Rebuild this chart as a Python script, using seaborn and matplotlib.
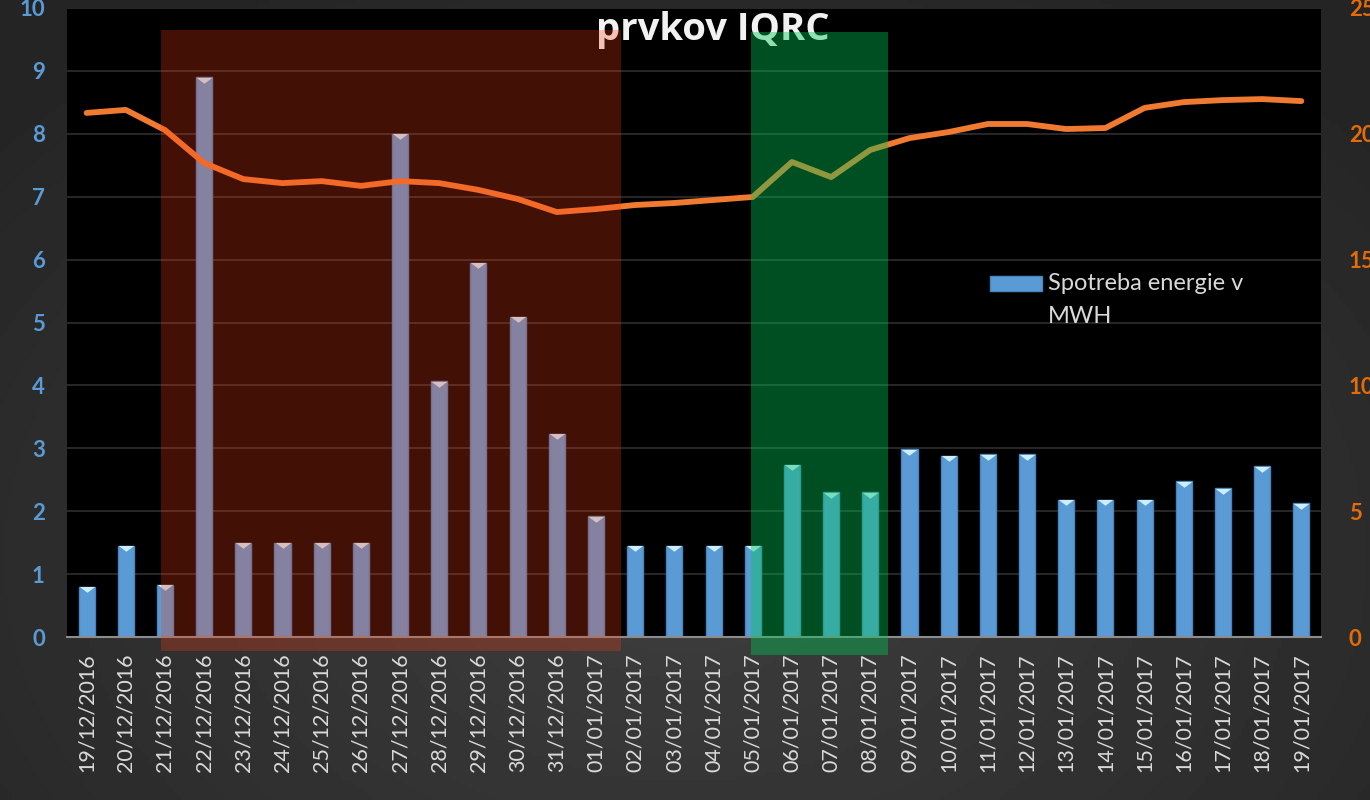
import numpy as np
import pandas as pd
import matplotlib
matplotlib.use('Agg')
import matplotlib.pyplot as plt
import seaborn as sns
from matplotlib.patches import Rectangle

# data
dates = ['19/12/2016', '20/12/2016', '21/12/2016', '22/12/2016', '23/12/2016', '24/12/2016',
         '25/12/2016', '26/12/2016', '27/12/2016', '28/12/2016', '29/12/2016', '30/12/2016',
         '31/12/2016', '01/01/2017', '02/01/2017', '03/01/2017', '04/01/2017', '05/01/2017',
         '06/01/2017', '07/01/2017', '08/01/2017', '09/01/2017', '10/01/2017', '11/01/2017',
         '12/01/2017', '13/01/2017', '14/01/2017', '15/01/2017', '16/01/2017', '17/01/2017',
         '18/01/2017', '19/01/2017']
energy = [0.80, 1.45, 0.83, 8.90, 1.50, 1.50, 1.50, 1.50, 8.00, 4.07, 5.95, 5.09,
          3.23, 1.92, 1.45, 1.45, 1.45, 1.45, 2.74, 2.30, 2.30, 2.99, 2.88, 2.91,
          2.91, 2.18, 2.18, 2.18, 2.48, 2.37, 2.72, 2.13]
temp = [20.83, 20.95, 20.15, 18.84, 18.20, 18.04, 18.12, 17.93, 18.12, 18.04, 17.77, 17.41,
        16.89, 17.01, 17.17, 17.25, 17.37, 17.49, 18.88, 18.28, 19.36, 19.83, 20.07, 20.39,
        20.39, 20.19, 20.23, 21.03, 21.26, 21.34, 21.38, 21.30]
legend_label = 'Spotreba energie v\nMWH'
title_text = 'prvkov IQRC'

df = pd.DataFrame({'date': dates, 'energy': energy, 'temp': temp})
df['pos'] = np.arange(len(df))

sns.set_style('dark')
plt.rcParams['font.family'] = ['Lato', 'DejaVu Sans']

bg = '#2b2b2b'
blue = '#5b9bd5'
orange = '#e36c0a'

fig = plt.figure(figsize=(13.7, 8), dpi=100, facecolor=bg)

# soft radial background like the slide
bg_ax = fig.add_axes([0, 0, 1, 1])
yy, xx = np.mgrid[0:1:200j, 0:1:340j]
dist = np.sqrt(((xx - 0.5) / 0.75) ** 2 + ((yy - 0.3) / 0.9) ** 2)
shade = np.clip(0.245 - 0.11 * dist, 0.145, 0.245)
bg_ax.imshow(shade, cmap='gray', vmin=0, vmax=1, aspect='auto', origin='lower',
             extent=[0, 1, 0, 1])
bg_ax.axis('off')

ax = fig.add_axes([0.0489, 0.2037, 0.9153, 0.7863])
ax.set_facecolor('black')

sns.barplot(data=df, x='date', y='energy', color=blue, width=0.41, saturation=1,
            edgecolor='#4a86bd', linewidth=1.0, label=legend_label, ax=ax, zorder=2)
# light triangle cap on each bar
cap = [(-1, 0.2), (1, 0.2), (0, -0.55)]
ax.scatter(df['pos'], df['energy'] - 0.025, marker=cap, s=125, color='#cdeeff',
           linewidths=0, zorder=3)

ax.set_xlim(-0.5, len(df) - 0.5)
ax.set_ylim(0, 10)
ax.set_yticks(range(0, 11))
ax.grid(axis='y', color='#2e2e2e', linewidth=1.2, zorder=0)
ax.grid(axis='x', visible=False)
for s in ['top', 'right', 'left']:
    ax.spines[s].set_visible(False)
ax.spines['bottom'].set_color('#8c8c8c')
ax.spines['bottom'].set_linewidth(1.5)
ax.set_xlabel('')
ax.set_ylabel('')
ax.tick_params(axis='y', length=0, pad=16, labelsize=16, labelcolor=blue)
ax.tick_params(axis='x', length=0, pad=12, labelsize=15.5, labelcolor='#d9d9d9',
               labelrotation=90)
for t in ax.get_yticklabels():
    t.set_fontweight('bold')

leg = ax.legend(loc='upper left', bbox_to_anchor=(0.736, 0.578), frameon=False,
                fontsize=17, labelcolor='#d9d9d9', handlelength=2.2, handleheight=0.64,
                handletextpad=0.25, borderpad=0, borderaxespad=0)
for t in leg.get_texts():
    t.set_linespacing(1.65)
for h in leg.legend_handles:
    h.set_y(h.get_y() + 12)

ax2 = ax.twinx()
sns.lineplot(data=df, x='pos', y='temp', color='#f07a30', linewidth=4.2, ax=ax2,
             zorder=2, solid_capstyle='round', solid_joinstyle='round')
ax2.set_ylim(0, 25)
ax2.set_yticks(range(0, 26, 5))
ax2.set_xlim(-0.5, len(df) - 0.5)
ax2.grid(False)
for s in ax2.spines.values():
    s.set_visible(False)
ax2.set_ylabel('')
ax2.tick_params(axis='y', length=0, pad=20, labelsize=16, labelcolor=orange)
for t in ax2.get_yticklabels():
    t.set_fontweight('bold')

# title, partly behind the shaded periods
ax2.text(0.52, 0.9625, title_text, transform=fig.transFigure, ha='center', va='center',
         fontsize=27.5, fontweight='bold', color='#f2f2f2', zorder=1, clip_on=False,
         family=['Open Sans', 'DejaVu Sans'])

# shaded periods (red = holidays, green = transition)
red_box = Rectangle((1.90, -0.22 * 2.5), 13.63 - 1.90, (9.65 + 0.22) * 2.5,
                    facecolor=(0.98, 0.24, 0.08), alpha=0.27, linewidth=0,
                    zorder=5, clip_on=False)
green_box = Rectangle((16.95, -0.29 * 2.5), 20.44 - 16.95, (9.62 + 0.29) * 2.5,
                      facecolor=(0.0, 0.78, 0.34), alpha=0.40, linewidth=0,
                      zorder=5, clip_on=False)
ax2.add_patch(red_box)
ax2.add_patch(green_box)

fig.savefig('out.png', dpi=100, facecolor=bg)
